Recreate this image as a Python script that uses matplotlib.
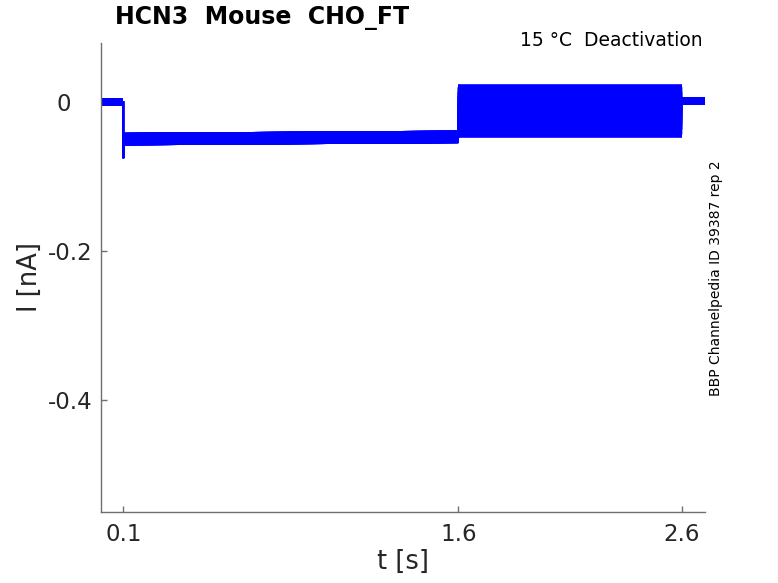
import matplotlib
matplotlib.use("Agg")
import matplotlib.pyplot as plt
from matplotlib.transforms import ScaledTranslation

# ---- data ----
t_hold = [0.0, 0.1]
i_hold = 0.0
t_spike = 0.1
i_spike = -0.075
t_step = [0.102, 1.6]
i_step = [-0.0495, -0.0465]
t_tail = [1.6, 2.6]
tail_levels = [0.019, 0.013, 0.007, 0.001, -0.005, -0.011, -0.017,
               -0.023, -0.029, -0.035, -0.042]
t_ret = [2.6, 2.705]
i_ret = 0.001

xticks = [0.1, 1.6, 2.6]
xtick_labels = ["0.1", "1.6", "2.6"]
yticks = [0.0, -0.2, -0.4]
ytick_labels = ["0", "-0.2", "-0.4"]

title = "HCN3  Mouse  CHO_FT"
subtitle = "15 °C  Deactivation"
side_note = "BBP Channelpedia ID 39387 rep 2"

# ---- figure ----
fig = plt.figure(figsize=(7.78, 5.83), dpi=100)
ax = fig.add_axes([101/778, 1-512/583, (705-101)/778, (512-43)/583])

blue = (0, 0, 1)
for lvl in tail_levels:
    xs = [t_hold[0], t_hold[1], t_spike, t_step[0], t_step[1], t_tail[0], t_tail[1], t_ret[0], t_ret[1]]
    ys = [i_hold, i_hold, i_spike, i_step[0], i_step[1], lvl, lvl, i_ret, i_ret]
    ax.plot(xs, ys, color=blue, lw=1.2, solid_joinstyle="miter")
    ax.plot(t_hold, [i_hold, i_hold], color=blue, lw=5.5, solid_capstyle="butt")
    ax.plot(t_step, i_step, color=blue, lw=9.0, solid_capstyle="butt")
    ax.plot(t_tail, [lvl, lvl], color=blue, lw=5.5, solid_capstyle="butt")
    ax.plot(t_ret, [i_ret, i_ret], color=blue, lw=5.5, solid_capstyle="butt")

ax.set_xlim(0.0, 2.705)
ax.set_ylim(-0.55, 0.0795)

ax.set_xticks(xticks)
ax.set_xticklabels(xtick_labels)
ax.set_yticks(yticks)
ax.set_yticklabels(ytick_labels)

spine_c = "#707070"
for s in ["top", "right"]:
    ax.spines[s].set_visible(False)
for s in ["left", "bottom"]:
    ax.spines[s].set_color(spine_c)
    ax.spines[s].set_linewidth(1.0)

ax.tick_params(axis="both", direction="in", length=4.5, width=1.0,
               color=spine_c, labelsize=16.5, labelcolor="#262626")
ax.tick_params(axis="x", pad=8)
ax.tick_params(axis="y", pad=6)

# the "0" label sits aligned with the leading zero of "-0.2"
zero_lbl = ax.get_yticklabels()[0]
zero_lbl.set_transform(zero_lbl.get_transform() + ScaledTranslation(-0.22, 0, fig.dpi_scale_trans))

ax.set_xlabel("t [s]", fontsize=18.5, color="#262626", labelpad=2)
ax.set_ylabel("I [nA]", fontsize=18.5, color="#262626", labelpad=4)

fig.text(115/778, 1-18/583, title, fontsize=17, fontweight="bold",
         ha="left", va="center", color="black")
fig.text(703/778, 1-40/583, subtitle, fontsize=13.5, ha="right", va="center",
         color="black")
fig.text(716/778, 1-278/583, side_note, fontsize=10, rotation=90,
         ha="center", va="center", color="black")

fig.savefig("out.png", dpi=100)
